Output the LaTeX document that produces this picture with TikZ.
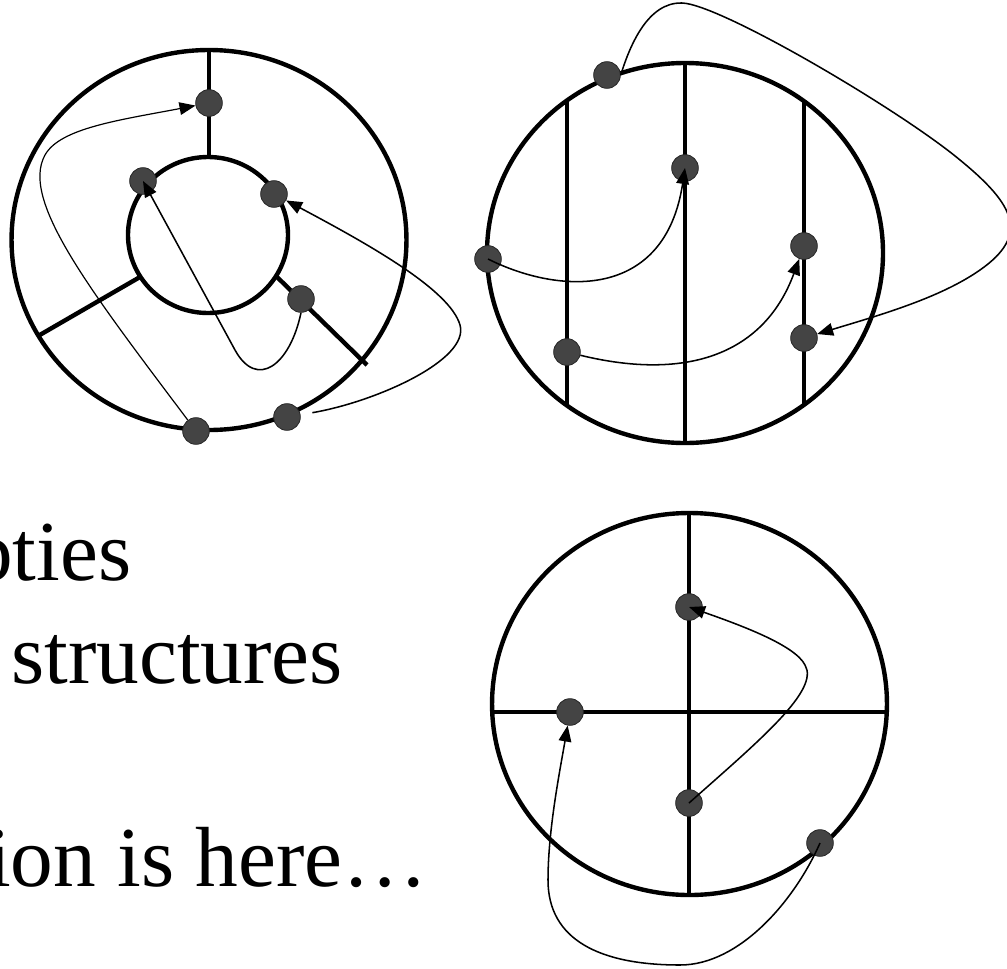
\documentclass[tikz,border=0pt]{standalone}
\usepackage{fontspec}
\setmainfont{Liberation Serif}
\usetikzlibrary{arrows.meta}
\definecolor{dotgray}{RGB}{68,68,68}
\begin{document}
\begin{tikzpicture}[x=0.75pt,y=-0.75pt,
  ring/.style={line width=3.3pt},
  bar/.style={line width=3.3pt},
  dot/.style={circle, fill=dotgray, draw=black!85, line width=0.6pt, minimum size=20pt, inner sep=0pt},
  link/.style={line width=1.15pt, -{Triangle[length=12pt,width=9.5pt]}},
  words/.style={anchor=base west, inner sep=0pt, font=\fontsize{64}{76}\selectfont}]
\useasboundingbox (0,0) rectangle (1007,968);
\clip (0,0) rectangle (1007,968);

% ---------- top-left figure ----------
\draw[ring] (209,240) ellipse [x radius=148.1pt, y radius=142.5pt];
\draw[ring] (208,235) ellipse [x radius=60pt, y radius=58.5pt];
\draw[bar] (209,50) -- (209,157);
\draw[bar] (140,277) -- (38,336);
\draw[bar] (276,276) -- (367,365);
\node[dot] (d1) at (209,103) {};
\node[dot] (d2) at (143,181) {};
\node[dot] (d3) at (274,194) {};
\node[dot] (d4) at (301,299) {};
\node[dot] (d5) at (196,431) {};
\node[dot] (d6) at (287,417) {};
\draw[link, line width=0.9pt] (d5) .. controls (90,290) and (20,200) .. (45,155)
   .. controls (60,128) and (120,120) .. (d1);
\draw[link] (d4.south) .. controls (290,365) and (257,390) .. (235,350) -- (d2.center);
\draw[link, shorten <=9pt] (d6) .. controls (375,402) and (470,360) .. (460,325)
   .. controls (450,290) and (370,245) .. (d3);

% ---------- top-right figure ----------
\draw[ring] (685,253) ellipse [x radius=148.5pt, y radius=142.5pt];
\draw[bar] (567,100) -- (567,406);
\draw[bar] (685,63) -- (685,443);
\draw[bar] (804,100) -- (804,406);
\node[dot] (e1) at (607,75) {};
\node[dot] (e2) at (488,259) {};
\node[dot] (e3) at (685,168) {};
\node[dot] (e4) at (804,246) {};
\node[dot] (e5) at (567,352) {};
\node[dot] (e6) at (804,338) {};
\draw[link] (e2.center) .. controls (560,295) and (665,300) .. (e3.center);
\draw[link] (e5) .. controls (690,382) and (765,352) .. (e4);
\draw[link] (e1.east) .. controls (630,45) and (648,2) .. (682,3)
   .. controls (720,4) and (900,110) .. (960,160)
   .. controls (1015,205) and (1030,235) .. (980,270)
   .. controls (940,298) and (880,315) .. (e6);

% ---------- bottom-right figure ----------
\draw[ring] (689.5,704) ellipse [x radius=148.1pt, y radius=143.25pt];
\draw[bar] (689,513) -- (689,895);
\draw[bar] (492,712) -- (887,712);
\node[dot] (g1) at (689,607) {};
\node[dot] (g2) at (570,712) {};
\node[dot] (g3) at (689,803) {};
\node[dot] (g4) at (820,843) {};
\draw[link] (g3.center) .. controls (760,740) and (820,690) .. (805,665)
   .. controls (795,645) and (740,625) .. (g1.center);
\draw[link] (g4.center) .. controls (795,900) and (740,965) .. (680,965)
   .. controls (600,965) and (548,940) .. (548,880)
   .. controls (548,830) and (560,770) .. (g2);

% ---------- text ----------
\node[words] (t1) at (-30,580) {pties};
\node[words] (t2) at (11,683) {structures};
\node[words] (t3) at (-13,886) {ion is here…};
\end{tikzpicture}
\end{document}
